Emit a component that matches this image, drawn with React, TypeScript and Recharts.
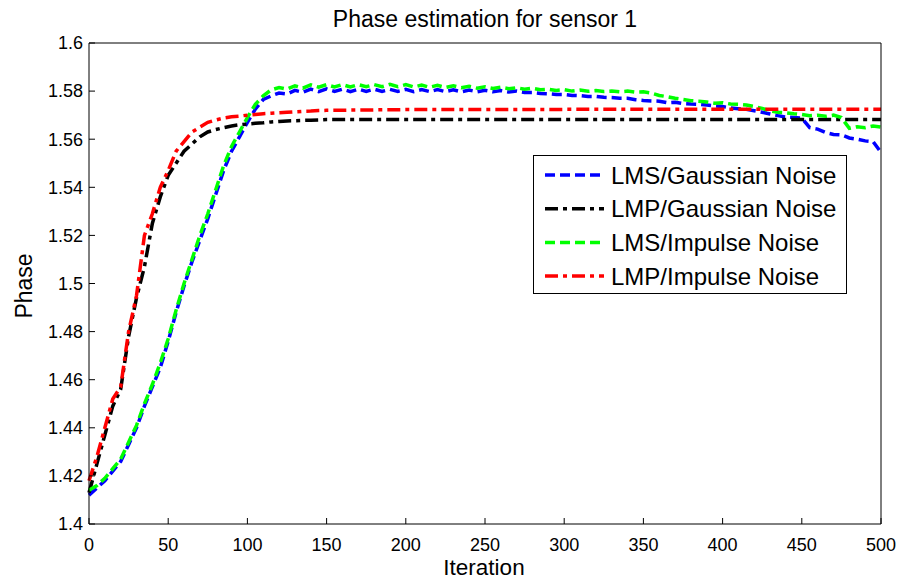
import React from 'react';
import { LineChart, Line, XAxis, YAxis, Legend } from 'recharts';

const xTicks = [0, 50, 100, 150, 200, 250, 300, 350, 400, 450, 500];
const yTicks = [1.4, 1.42, 1.44, 1.46, 1.48, 1.5, 1.52, 1.54, 1.56, 1.58, 1.6];

const seriesNames = ['LMS/Gaussian Noise', 'LMP/Gaussian Noise', 'LMS/Impulse Noise', 'LMP/Impulse Noise'];

const lmsIter = [
  0, 5, 10, 15, 20, 25, 30, 35, 40, 45, 50, 55, 60, 65, 70, 75, 80, 85, 90, 95,
  100, 105, 110, 115, 120, 125, 130, 135, 140, 145, 150, 155, 160, 165, 170, 175, 180, 185, 190, 195,
  200, 205, 210, 215, 220, 225, 230, 235, 240, 245, 250, 255, 260, 265, 270, 275, 280, 285, 290, 295,
  300, 305, 310, 315, 320, 325, 330, 335, 340, 345, 350, 355, 360, 365, 370, 375, 380, 385, 390, 395,
  400, 405, 410, 415, 420, 425, 430, 435, 440, 445, 450, 455, 460, 465, 470, 475, 480, 485, 490, 495,
  500,
];

const lmsGaussian = [
  1.412, 1.415, 1.418, 1.422, 1.426, 1.433, 1.44, 1.449, 1.457, 1.465, 1.476, 1.488, 1.499, 1.509, 1.518, 1.527, 1.537, 1.547, 1.555, 1.561,
  1.567, 1.5725, 1.5765, 1.578, 1.5792, 1.5788, 1.5803, 1.5795, 1.5808, 1.5798, 1.5809, 1.5799, 1.5808, 1.5798, 1.5808, 1.5799, 1.5808, 1.5799, 1.5807, 1.5799,
  1.5807, 1.5798, 1.5806, 1.5798, 1.5806, 1.5798, 1.5805, 1.5797, 1.5804, 1.5797, 1.5803, 1.5797, 1.5802, 1.5796, 1.58, 1.5794, 1.5794, 1.579, 1.5789, 1.5786,
  1.5786, 1.5782, 1.5781, 1.5778, 1.5778, 1.5774, 1.5773, 1.577, 1.577, 1.5764, 1.5761, 1.5759, 1.5758, 1.5752, 1.5754, 1.5748, 1.5746, 1.5745, 1.5742, 1.5738,
  1.5736, 1.573, 1.5727, 1.5724, 1.5718, 1.5712, 1.5705, 1.5698, 1.5692, 1.569, 1.5688, 1.5648, 1.5642, 1.5628, 1.562, 1.5618, 1.5605, 1.56, 1.5593, 1.559,
  1.5545,
];

const lmsImpulse = [
  1.414, 1.416, 1.419, 1.423, 1.427, 1.434, 1.441, 1.45, 1.458, 1.467, 1.477, 1.489, 1.5, 1.51, 1.52, 1.529, 1.539, 1.549, 1.557, 1.563,
  1.569, 1.5745, 1.578, 1.5805, 1.5815, 1.5808, 1.5822, 1.5812, 1.5826, 1.5816, 1.5827, 1.5817, 1.5827, 1.5817, 1.5827, 1.5818, 1.5827, 1.5818, 1.5828, 1.5818,
  1.5827, 1.5817, 1.5825, 1.5816, 1.5824, 1.5815, 1.5822, 1.5814, 1.582, 1.5812, 1.5818, 1.5811, 1.5816, 1.581, 1.5814, 1.5808, 1.5812, 1.5806, 1.5808, 1.5803,
  1.5806, 1.58, 1.5804, 1.5799, 1.5802, 1.5798, 1.58, 1.5797, 1.58, 1.5796, 1.5797, 1.5792, 1.5782, 1.5777, 1.577, 1.5765, 1.576, 1.5758, 1.5755, 1.575,
  1.5752, 1.5746, 1.5745, 1.5742, 1.5736, 1.5728, 1.5718, 1.5712, 1.571, 1.5706, 1.5703, 1.5698, 1.57, 1.5695, 1.57, 1.569, 1.5645, 1.5652, 1.5648, 1.5655,
  1.565,
];

const lmpIter = [
  0, 5, 10, 15, 20, 25, 30, 35, 40, 45, 50, 55, 60, 65, 70, 75, 80, 85, 90, 95,
  100, 105, 110, 115, 120, 125, 130, 135, 140, 145, 150, 200, 250, 300, 350, 400, 450, 500,
];

const lmpGaussian = [
  1.413, 1.425, 1.437, 1.449, 1.456, 1.478, 1.494, 1.507, 1.525, 1.536, 1.545, 1.55, 1.555, 1.558, 1.561, 1.563, 1.564, 1.5648, 1.5655, 1.566,
  1.5663, 1.5666, 1.5668, 1.5672, 1.5674, 1.5676, 1.5677, 1.5678, 1.5679, 1.568, 1.5682, 1.5682, 1.5682, 1.5682, 1.5682, 1.5682, 1.5682, 1.5682,
];

const lmpImpulse = [
  1.418, 1.428, 1.44, 1.452, 1.457, 1.48, 1.495, 1.52, 1.529, 1.54, 1.547, 1.555, 1.559, 1.563, 1.565, 1.567, 1.568, 1.5688, 1.5693, 1.5696,
  1.57, 1.5703, 1.5706, 1.5708, 1.571, 1.5712, 1.5714, 1.5716, 1.5717, 1.5719, 1.572, 1.5723, 1.5724, 1.5724, 1.5725, 1.5725, 1.5725, 1.5725,
];

const toPoints = (xs: number[], ys: number[]) => xs.map((x, i) => ({ x, y: ys[i] }));

const series = [
  { name: seriesNames[0], data: toPoints(lmsIter, lmsGaussian), color: '#0000ff', dash: '10 5' },
  { name: seriesNames[1], data: toPoints(lmpIter, lmpGaussian), color: '#000000', dash: '13 5 4 5' },
  { name: seriesNames[2], data: toPoints(lmsIter, lmsImpulse), color: '#00ff00', dash: '10 5' },
  { name: seriesNames[3], data: toPoints(lmpIter, lmpImpulse), color: '#ff0000', dash: '13 5 4 5' },
];

const FONT = '"Liberation Sans", Arial, Helvetica, sans-serif';
const TICK_LEN = 6;
const X_MARGIN = 14;
const Y_MARGIN = 6;

const fmt = (v: number) => String(Number(Number(v).toFixed(2)));

const BottomTick = (p: any) => (
  <g>
    <line x1={p.x} x2={p.x} y1={p.y - X_MARGIN} y2={p.y - X_MARGIN - TICK_LEN} stroke="#000" strokeWidth={1} />
    <text x={p.x} y={p.y} dy="0.71em" textAnchor="middle" fontSize={18} fill="#000" fontFamily={FONT}>
      {p.payload.value}
    </text>
  </g>
);

const LeftTick = (p: any) => (
  <g>
    <line x1={p.x + Y_MARGIN} x2={p.x + Y_MARGIN + TICK_LEN} y1={p.y} y2={p.y} stroke="#000" strokeWidth={1} />
    <text x={p.x} y={p.y} dy="0.355em" textAnchor="end" fontSize={18} fill="#000" fontFamily={FONT}>
      {fmt(p.payload.value)}
    </text>
  </g>
);

const TopTick = (p: any) => (
  <line x1={p.x} x2={p.x} y1={p.y} y2={p.y + TICK_LEN} stroke="#000" strokeWidth={1} />
);

const RightTick = (p: any) => (
  <line x1={p.x - TICK_LEN} x2={p.x} y1={p.y} y2={p.y} stroke="#000" strokeWidth={1} />
);

const LegendBox = () => (
  <div
    style={{
      width: 314,
      height: 139,
      border: '1px solid #000',
      background: '#fff',
      boxSizing: 'border-box',
      fontFamily: FONT,
    }}
  >
    <svg width={312} height={137} style={{ display: 'block' }}>
      {series.map((s, i) => {
        const cy = 19 + i * 33.7;
        return (
          <g key={s.name}>
            <line x1={11} x2={70} y1={cy} y2={cy} stroke={s.color} strokeWidth={3.5} strokeDasharray={s.dash} />
            <text x={77} y={cy + 8.5} fontSize={24} fill="#000" fontFamily={FONT}>
              {s.name}
            </text>
          </g>
        );
      })}
    </svg>
  </div>
);

export default function App() {
  return (
    <div style={{ position: 'absolute', left: 0, top: 0, width: 898, height: 580, background: '#fff' }}>
      <LineChart
        width={898}
        height={580}
        margin={{ top: 42, right: 16, bottom: 0, left: 0 }}
        style={{ fontFamily: FONT }}
      >
        <XAxis
          dataKey="x"
          type="number"
          domain={[0, 500]}
          ticks={xTicks}
          interval={0}
          height={56}
          tickSize={0}
          tickMargin={X_MARGIN}
          tickLine={false}
          axisLine={{ stroke: '#000', strokeWidth: 1 }}
          tick={BottomTick}
          label={{
            content: () => (
              <text x={484} y={575} textAnchor="middle" fontSize={22.5} fill="#000" fontFamily={FONT}>
                Iteration
              </text>
            ),
          }}
        />
        <XAxis
          xAxisId="top"
          dataKey="x"
          type="number"
          orientation="top"
          domain={[0, 500]}
          ticks={xTicks}
          interval={0}
          height={1}
          tickSize={0}
          tickMargin={0}
          tickLine={false}
          tick={TopTick}
          axisLine={{ stroke: '#000', strokeWidth: 1 }}
          label={{
            content: () => (
              <text x={485} y={27} textAnchor="middle" fontSize={23} fill="#000" fontFamily={FONT}>
                Phase estimation for sensor 1
              </text>
            ),
          }}
        />
        <YAxis
          type="number"
          domain={[1.4, 1.6]}
          ticks={yTicks}
          interval={0}
          width={89}
          tickSize={0}
          tickMargin={Y_MARGIN}
          tickLine={false}
          axisLine={{ stroke: '#000', strokeWidth: 1 }}
          tick={LeftTick}
          label={{
            content: () => (
              <text
                x={0}
                y={0}
                transform="translate(31.5 286) rotate(-90)"
                textAnchor="middle"
                fontSize={23}
                fill="#000"
                fontFamily={FONT}
              >
                Phase
              </text>
            ),
          }}
        />
        <YAxis
          yAxisId="right"
          type="number"
          orientation="right"
          domain={[1.4, 1.6]}
          ticks={yTicks}
          interval={0}
          width={1}
          tickSize={0}
          tickMargin={0}
          tickLine={false}
          tick={RightTick}
          axisLine={{ stroke: '#000', strokeWidth: 1 }}
        />
        {series.map((s) => (
          <Line
            key={s.name}
            data={s.data}
            dataKey="y"
            name={s.name}
            type="linear"
            stroke={s.color}
            strokeWidth={3.5}
            strokeDasharray={s.dash}
            dot={false}
            activeDot={false}
            isAnimationActive={false}
          />
        ))}
        <Legend
          layout="vertical"
          align="center"
          verticalAlign="middle"
          content={() => <LegendBox />}
          wrapperStyle={{ position: 'absolute', left: 533, top: 155, width: 314, height: 139 }}
        />
      </LineChart>
    </div>
  );
}
